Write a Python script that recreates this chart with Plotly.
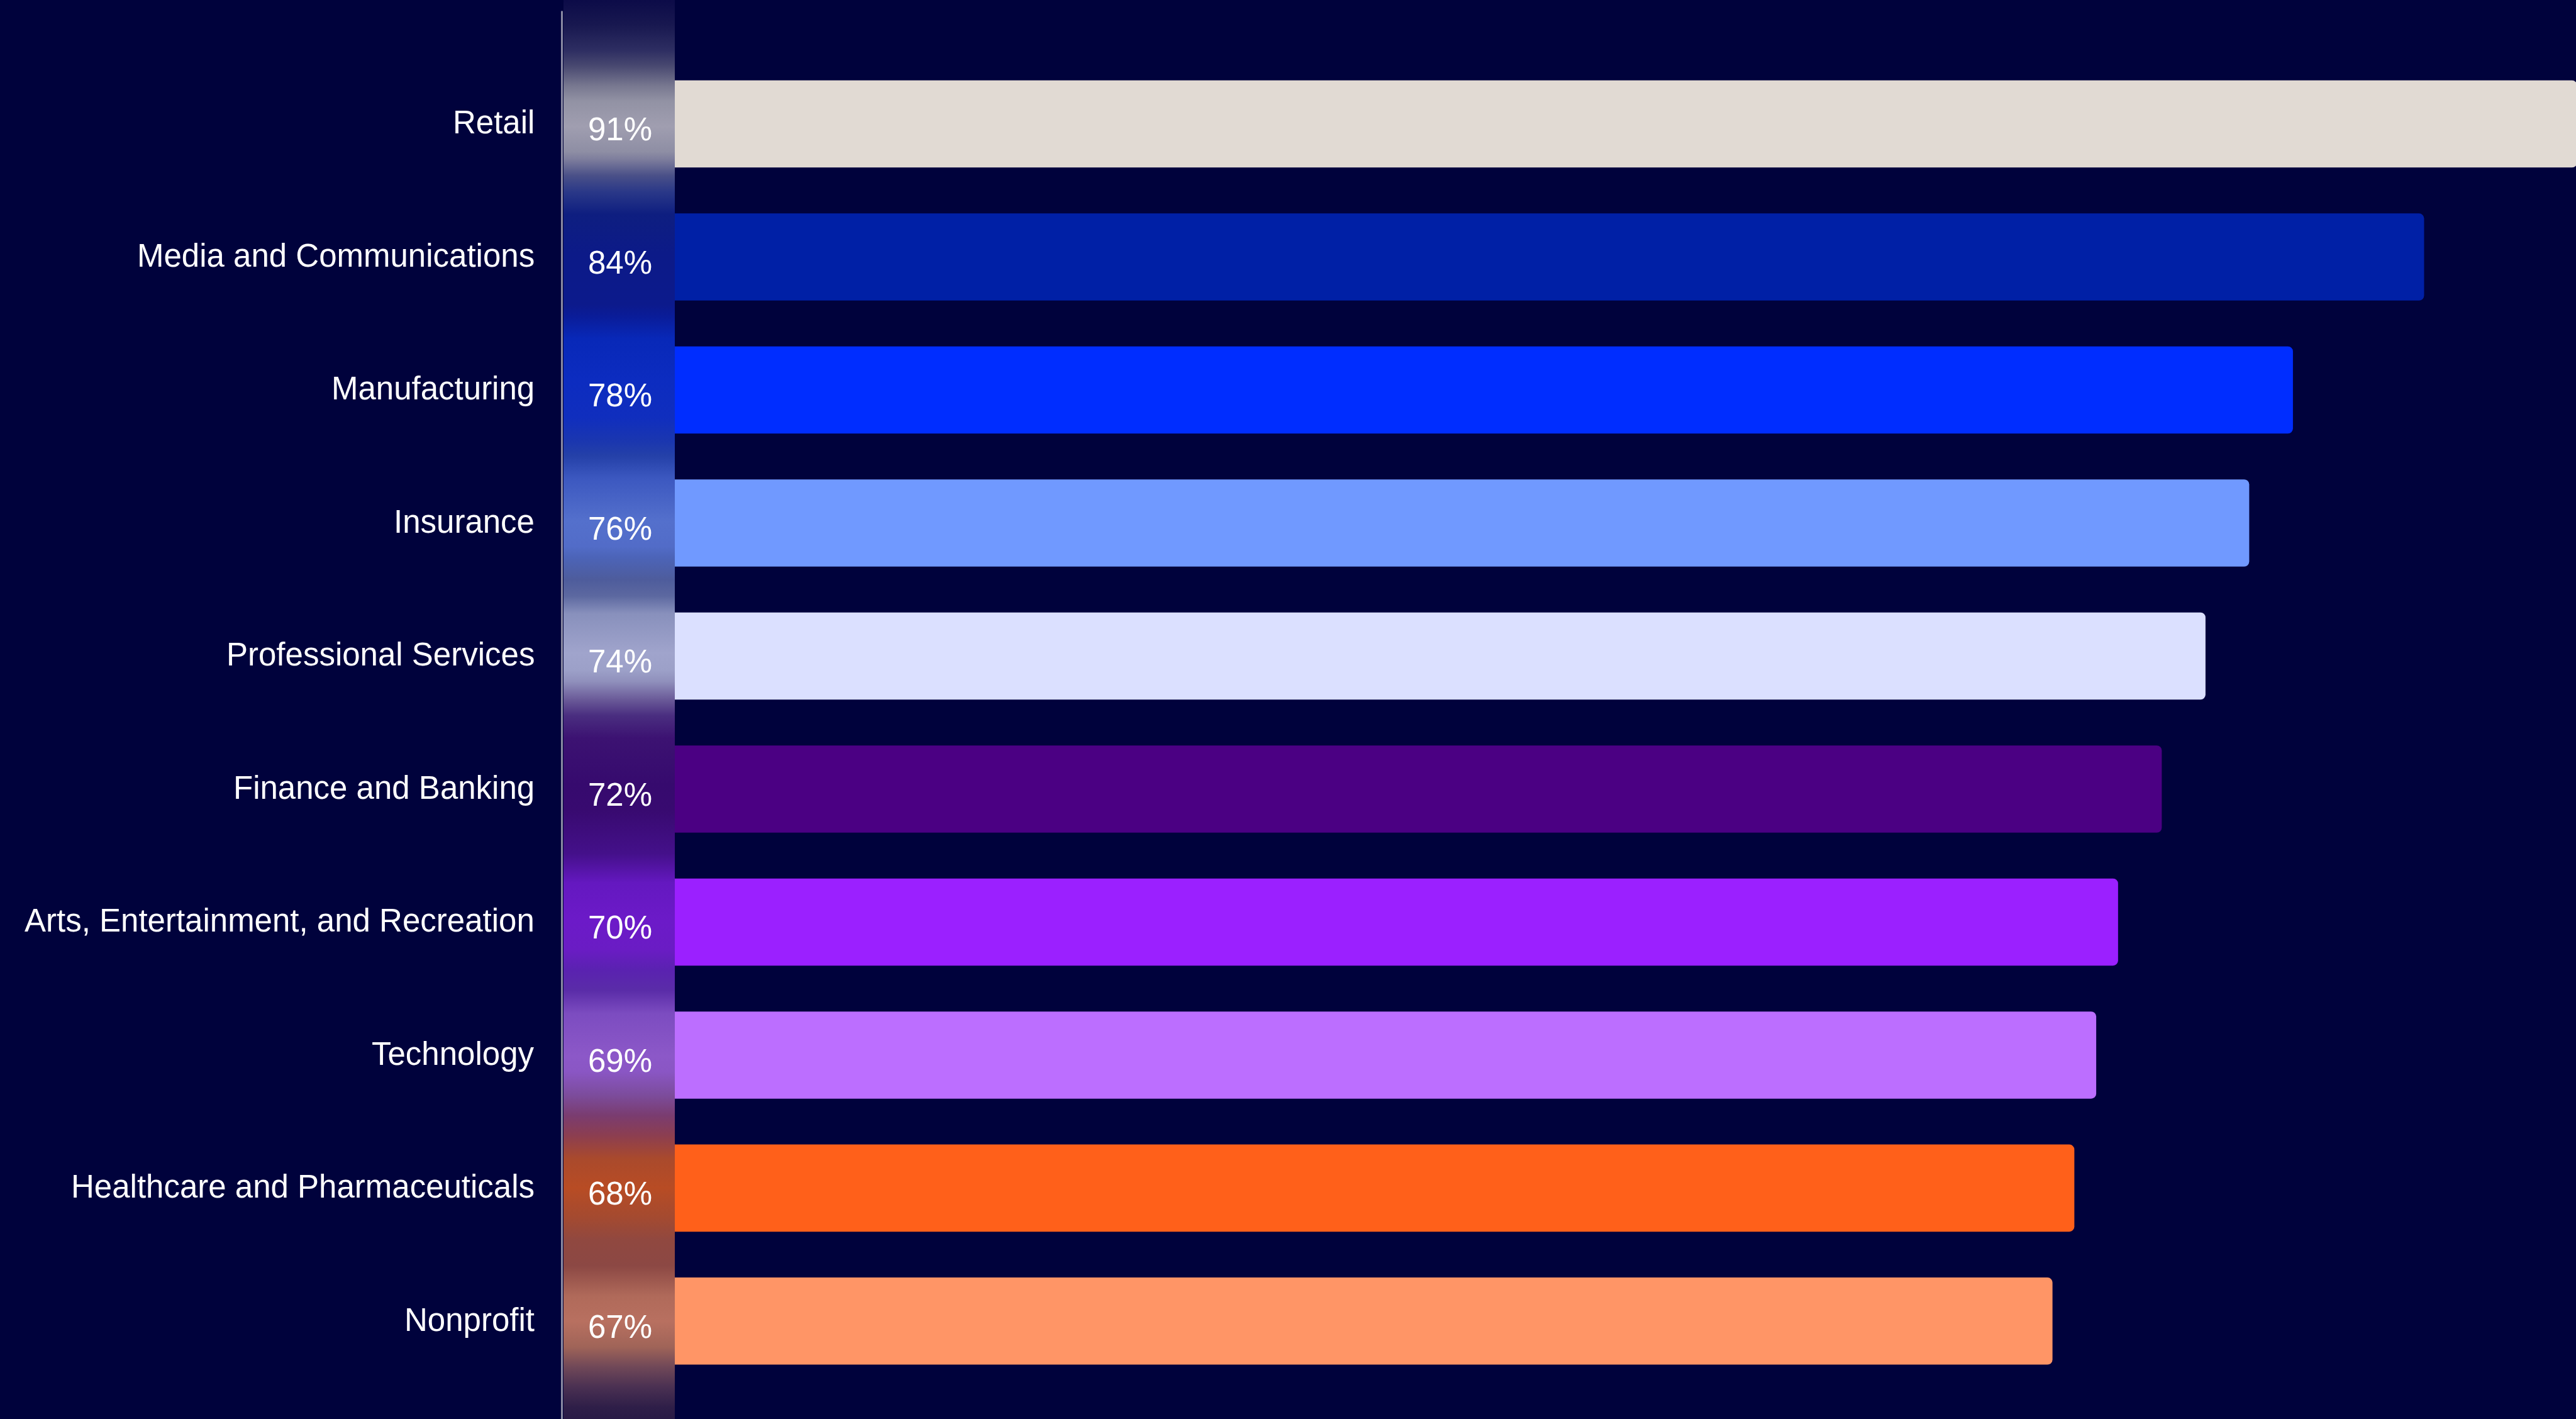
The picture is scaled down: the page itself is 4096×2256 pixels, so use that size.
import plotly.graph_objects as go

# Share of respondents by industry
CATEGORIES = [
    "Retail",
    "Media and Communications",
    "Manufacturing",
    "Insurance",
    "Professional Services",
    "Finance and Banking",
    "Arts, Entertainment, and Recreation",
    "Technology",
    "Healthcare and Pharmaceuticals",
    "Nonprofit",
]
VALUES = [91, 84, 78, 76, 74, 72, 70, 69, 68, 67]
VALUE_LABELS = [f"{v}%" for v in VALUES]

BAR_COLORS = [
    "#e1dad3", "#0020a6", "#002dff", "#7099ff", "#dbe0ff",
    "#4b0083", "#9b20ff", "#bc6eff", "#ff601a", "#ff9566",
]

# Glow strip behind the value labels: stops along the category axis
GLOW_POS = [
    -0.933, -0.742, -0.552, -0.438, -0.285, -0.171, 0.019, 0.209, 0.270, 0.388,
    0.510, 0.678, 0.971, 1.359, 1.443, 1.614, 1.922, 2.208, 2.379, 2.493,
    2.665, 2.988, 3.175, 3.258, 3.426, 3.548, 3.681, 3.978, 4.107, 4.191,
    4.328, 4.446, 4.617, 4.968, 5.158, 5.485, 5.706, 5.995, 6.205, 6.361,
    6.513, 6.688, 7.004, 7.126, 7.301, 7.453, 7.606, 7.781, 7.998, 8.219,
    8.394, 8.584, 8.813, 9.003, 9.193, 9.345, 9.498, 9.650, 9.736,
]
GLOW_COLORS = [
    "#0c0b48", "#181850", "#2e2e62", "#484870", "#787890", "#9292a4", "#a09eb0", "#8e8ea4", "#7c7c9c", "#4a5088",
    "#2a3888", "#0e1e80", "#0c1a88", "#0c1a8c", "#0a1c98", "#0828b8", "#0c2cc0", "#102ebe", "#1a36b0", "#2440a8",
    "#3c58c0", "#5470cc", "#526cc8", "#4c64b8", "#4e5c9c", "#5c68a0", "#8890bc", "#a0a4cc", "#9ca0c8", "#9090bc",
    "#6a5a98", "#4a2e80", "#3c1272", "#360a6e", "#380a70", "#44108a", "#6418c0", "#6c1ac8", "#6a1cc4", "#5a22b0",
    "#5a2ca8", "#7c4cc0", "#8c58c8", "#8a56c4", "#7c4c9c", "#7a3c70", "#8c3e50", "#aa4a2c", "#b84c24", "#a44a30",
    "#904840", "#8c4844", "#b06a5a", "#b87060", "#a06458", "#704858", "#4a3052", "#2e1e48", "#281a46",
]

BG = "#00023c"
W, H = 4096, 2256
FONT = "Liberation Sans, Arial, sans-serif"
X_RANGE = [-26.9, 90.95]
Y_RANGE = [9.736, -0.932]


def px_to_x(px):
    return X_RANGE[0] + px / W * (X_RANGE[1] - X_RANGE[0])


ypos = list(range(len(CATEGORIES)))

fig = go.Figure()

fig.add_trace(go.Bar(
    x=VALUES,
    y=ypos,
    orientation="h",
    width=0.655,
    marker=dict(color=BAR_COLORS, line=dict(width=0)),
    hoverinfo="skip",
))

# vertical gradient strip, filled polygon drawn over the bar bases
p0, p1 = GLOW_POS[0], GLOW_POS[-1]
colorscale = [[(p - p0) / (p1 - p0), c] for p, c in zip(GLOW_POS, GLOW_COLORS)]
cx0, cx1 = px_to_x(896), px_to_x(1073)
fig.add_trace(go.Scatter(
    x=[cx0, cx1, cx1, cx0, cx0],
    y=[p0, p0, p1, p1, p0],
    mode="lines",
    line=dict(width=0),
    fill="toself",
    fillgradient=dict(type="vertical", colorscale=colorscale, start=p0, stop=p1),
    hoverinfo="skip",
))

shapes = [dict(
    type="line", xref="x", yref="y",
    x0=px_to_x(893.5), x1=px_to_x(893.5), y0=-0.849, y1=Y_RANGE[0],
    line=dict(color="#8a8aa2", width=3), layer="above",
)]

annotations = []
for i, (cat, lab) in enumerate(zip(CATEGORIES, VALUE_LABELS)):
    annotations.append(dict(
        x=852 / W, xref="paper", y=i - 0.01, yref="y",
        text=cat, showarrow=False, xanchor="right", yanchor="middle",
        font=dict(family=FONT, size=51, color="#ffffff"),
    ))
    annotations.append(dict(
        x=px_to_x(986), xref="x", y=i + 0.042, yref="y",
        text=lab, showarrow=False, xanchor="center", yanchor="middle",
        font=dict(family=FONT, size=51, color="#ffffff"),
    ))

fig.update_layout(
    width=W,
    height=H,
    margin=dict(l=0, r=0, t=0, b=0, pad=0),
    paper_bgcolor=BG,
    plot_bgcolor=BG,
    showlegend=False,
    barcornerradius=8,
    xaxis=dict(range=X_RANGE, visible=False, fixedrange=True),
    yaxis=dict(range=Y_RANGE, visible=False, fixedrange=True),
    shapes=shapes,
    annotations=annotations,
)

fig.write_html("out.html")
